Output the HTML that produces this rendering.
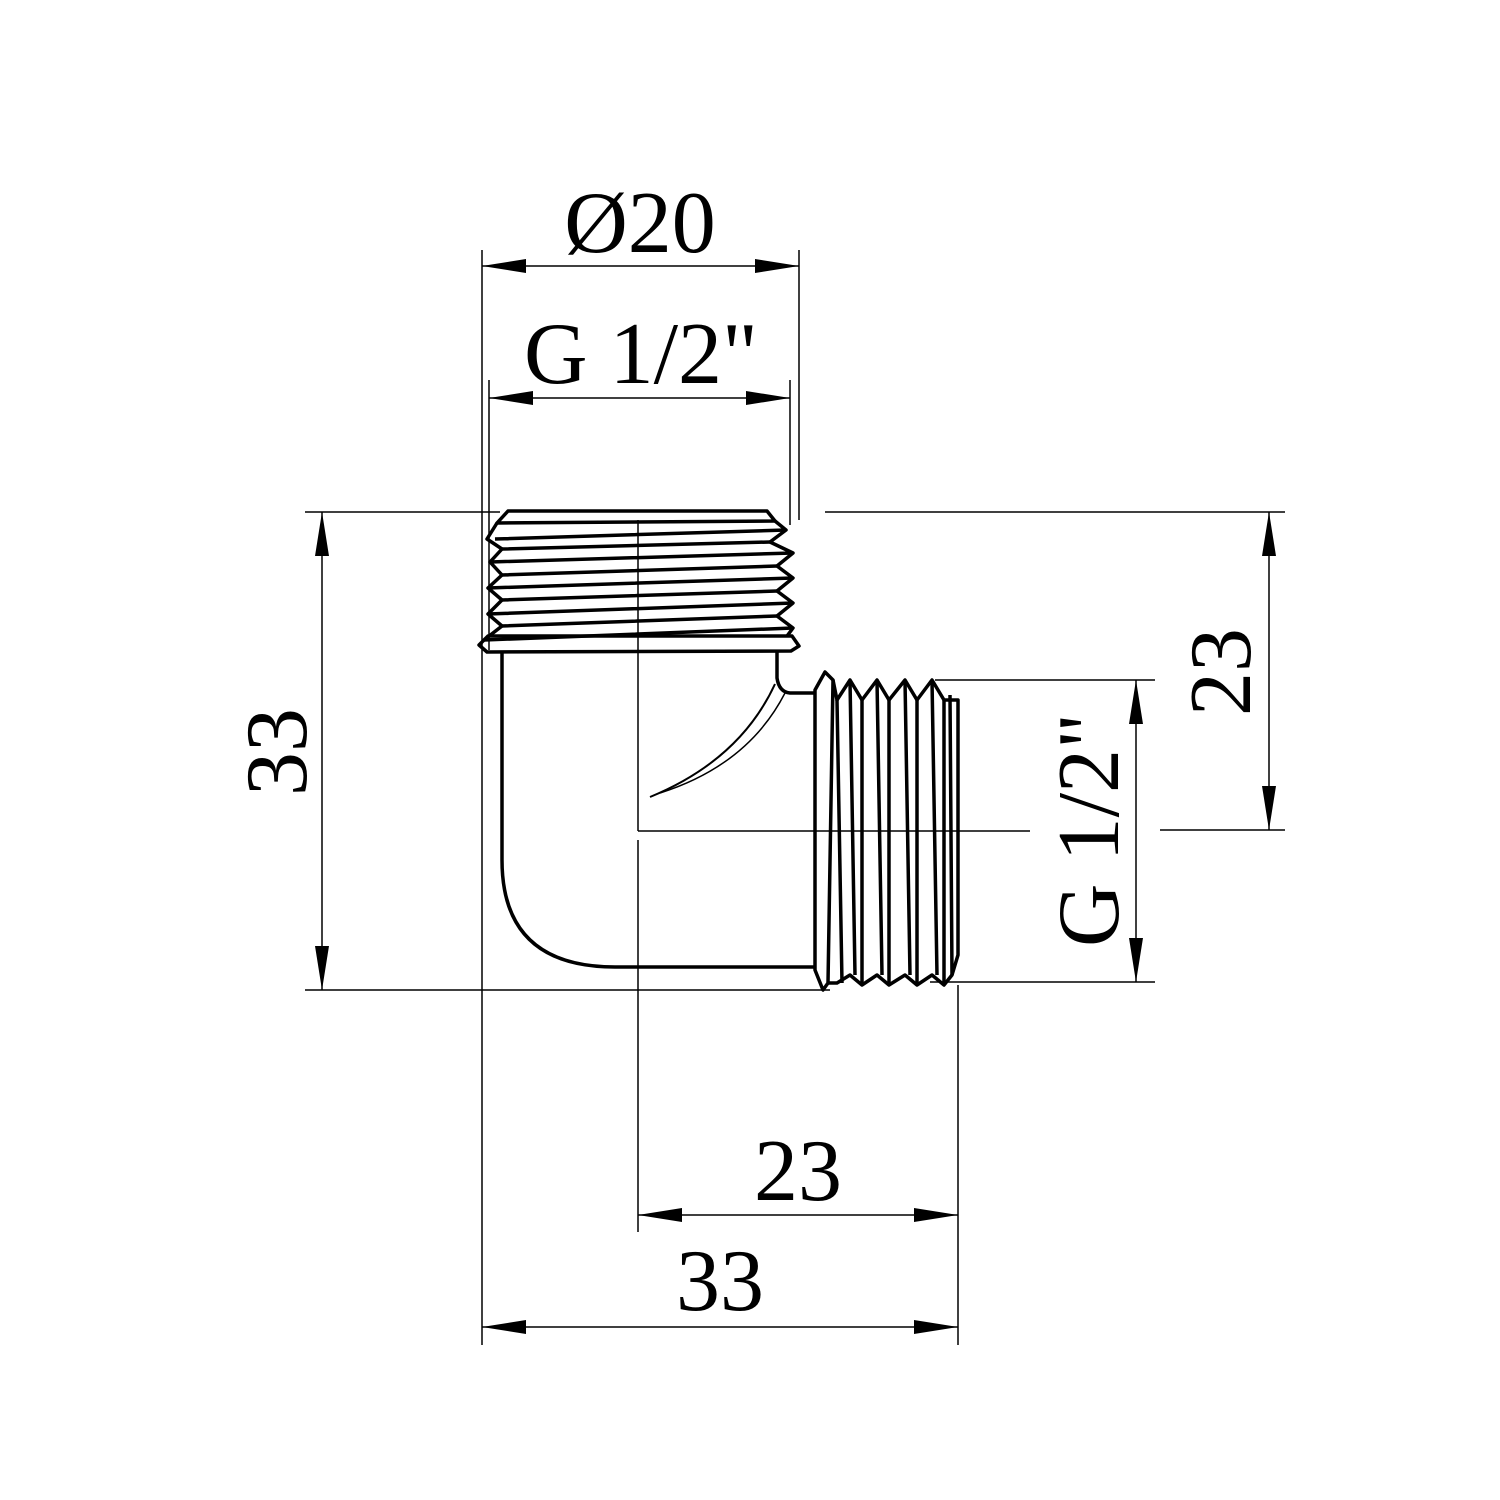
<!DOCTYPE html>
<html><head><meta charset="utf-8"><style>html,body{margin:0;padding:0;background:#fff}svg{display:block}</style></head>
<body>
<svg width="1500" height="1500" viewBox="0 0 1500 1500" xmlns="http://www.w3.org/2000/svg">
<defs>
<marker id="a" viewBox="0 0 44 14" refX="44" refY="7" markerWidth="44" markerHeight="14" markerUnits="userSpaceOnUse" orient="auto-start-reverse"><path d="M0,0 L44,7 L0,14 Z" fill="#000"/></marker>
</defs>
<g stroke="#000" stroke-width="1.5" fill="none">
<!-- extension lines -->
<line x1="482" y1="250" x2="482" y2="1345"/>
<line x1="799" y1="250" x2="799" y2="520"/>
<line x1="489" y1="380" x2="489" y2="650"/>
<line x1="790" y1="380" x2="790" y2="525"/>
<line x1="305" y1="512" x2="500" y2="512"/>
<line x1="305" y1="990" x2="830" y2="990"/>
<line x1="825" y1="512" x2="1285" y2="512"/>
<line x1="1160" y1="830" x2="1285" y2="830"/>
<line x1="935" y1="680" x2="1155" y2="680"/>
<line x1="930" y1="982" x2="1155" y2="982"/>
<line x1="958" y1="985" x2="958" y2="1345"/>
<!-- center lines -->
<line x1="638" y1="520" x2="638" y2="831"/>
<line x1="638" y1="840" x2="638" y2="1232"/>
<line x1="638" y1="831" x2="1030" y2="831"/>
<!-- dimension lines -->
<line x1="482" y1="266" x2="799" y2="266" marker-start="url(#a)" marker-end="url(#a)"/>
<line x1="489" y1="398" x2="790" y2="398" marker-start="url(#a)" marker-end="url(#a)"/>
<line x1="322" y1="512" x2="322" y2="990" marker-start="url(#a)" marker-end="url(#a)"/>
<line x1="1269" y1="512" x2="1269" y2="830" marker-start="url(#a)" marker-end="url(#a)"/>
<line x1="1136" y1="680" x2="1136" y2="982" marker-start="url(#a)" marker-end="url(#a)"/>
<line x1="638" y1="1215" x2="958" y2="1215" marker-start="url(#a)" marker-end="url(#a)"/>
<line x1="482" y1="1327" x2="958" y2="1327" marker-start="url(#a)" marker-end="url(#a)"/>
</g>
<g stroke="#000" stroke-width="3.5" fill="none" stroke-linejoin="round">
<!-- top thread -->
<path d="M508,511 L767,511 L775,521 L497,523 Z"/>
<path d="M497,523 L487,539 L502,549 L490,562 L502,575 L488,588 L502,600 L488,614 L502,626 L484,640"/>
<path d="M775,521 L786,530 L770,542 L793,553 L777,566 L793,578 L777,591 L793,603 L777,616 L793,628 L787,636"/>
<path d="M495,539 L786,530 M502,549 L770,542 M490,562 L793,553 M502,575 L777,566 M488,588 L793,578 M502,600 L777,591 M488,614 L793,603 M502,626 L777,616 M484,640 L793,628"/>
<!-- collar -->
<path d="M488,636 L792,636 L799,646 L791,651 L487,652 L479,645 Z"/>
<!-- body -->
<path d="M502,652 L502,860 Q502,967 615,967 L815,967"/>
<path d="M777,652 L777,678 Q779,692 790,693 L815,693"/>
<path d="M775,684 Q740,760 650,797" stroke-width="2"/>
<path d="M785,693 Q748,765 660,793" stroke-width="1.5"/>
<!-- right thread -->
<path d="M815,690 L825,672 L833,680 L828,983 L823,990 L815,970 Z"/>
<path d="M833,680 L837,700 L850,680 L862,700 L877,680 L889,700 L905,680 L917,700 L932,680 L944,700 L958,700 L958,955 L952,975 L944,985 L932,975 L917,985 L905,975 L889,985 L877,975 L862,985 L850,975 L837,983 L828,983"/>
<path d="M837,700 L842,983 M850,680 L855,975 M862,700 L862,985 M877,680 L882,975 M889,700 L889,985 M905,680 L910,975 M917,700 L917,985 M932,680 L937,975 M944,700 L944,985 M950,695 L952,975"/>
</g>
<g font-family="'Liberation Serif', serif" font-size="88" fill="#000">
<text x="640" y="252" text-anchor="middle">Ø20</text>
<text x="641" y="383" text-anchor="middle">G 1/2"</text>
<text x="798" y="1200" text-anchor="middle">23</text>
<text x="720" y="1310" text-anchor="middle">33</text>
<text transform="translate(306,752) rotate(-90)" text-anchor="middle">33</text>
<text transform="translate(1250,672) rotate(-90)" text-anchor="middle">23</text>
<text transform="translate(1118,830) rotate(-90)" text-anchor="middle">G 1/2"</text>
</g>
</svg>
</body></html>
